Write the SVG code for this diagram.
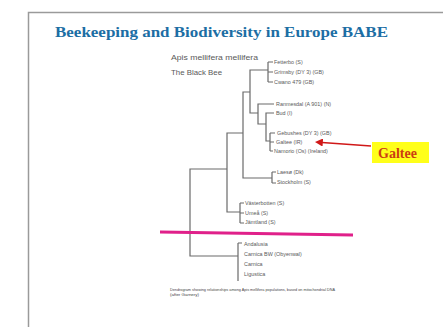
<svg xmlns="http://www.w3.org/2000/svg" width="443" height="327" viewBox="0 0 443 327">
<style>
.lbl{font-family:"Liberation Sans",Arial,sans-serif;font-size:5.4px;fill:#5a5a5a}
.sp{font-family:"Liberation Sans",Arial,sans-serif;font-size:7px;fill:#5a5a5a}
.tree{fill:none;stroke:#6a6a6a;stroke-width:1.2}
.foot{font-family:"Liberation Sans",Arial,sans-serif;font-size:3.6px;fill:#444}
</style>
<defs>
<marker id="ah" viewBox="0 0 10 10" refX="1" refY="5" markerWidth="5" markerHeight="5" orient="auto-start-reverse">
<path d="M0,0 L10,5 L0,10 z" fill="#d01818"/>
</marker>
</defs>
<rect width="443" height="327" fill="#ffffff"/>
<g id="frame">
<path d="M28.5,327 V12.5 H443" fill="none" stroke="#9a9a9a" stroke-width="1.5"/>
</g>
<g id="title">
<text x="55" y="37" font-family="Liberation Serif,Times New Roman,serif" font-weight="bold" font-size="15" fill="#1c6ea4" textLength="333" lengthAdjust="spacingAndGlyphs">Beekeeping and Biodiversity in Europe  BABE</text>
</g>
<g id="species">
<text class="sp" x="171" y="60" textLength="87" lengthAdjust="spacingAndGlyphs">Apis mellifera mellifera</text>
<text class="sp" x="171" y="75" textLength="51" lengthAdjust="spacingAndGlyphs">The Black Bee</text>
</g>
<g id="connectors" class="tree">
<path d="M227,169 H190 V256 H238"/>
<path d="M243,133 H227 V212 H240"/>
<path d="M250,92 H243 V178 H272"/>
<path d="M268,70 H250 V113 H258"/>
<path d="M268,62 V82 M268,62 H273 M268,72 H273 M268,82 H273"/>
<path d="M274,104 H258 V124 H266"/>
<path d="M274,113 H266 V141 H270"/>
<path d="M270,133 V151 M270,133 H275 M270,142 H274 M270,151 H273"/>
<path d="M272,172 V183 M272,172 H276 M272,183 H276"/>
<path d="M240,203 V223 M240,203 H244 M240,213 H244 M240,223 H244"/>
<path d="M238,243 V281 M238,243 H242"/>
</g>
<g id="leaves">
<text class="lbl" x="274" y="64">Fetterbo (S)</text>
<text class="lbl" x="274" y="74">Grimsby (DY 3) (GB)</text>
<text class="lbl" x="274" y="84">Cwano 479 (GB)</text>
<text class="lbl" x="276" y="106">Ranmesdal (A 901) (N)</text>
<text class="lbl" x="276" y="115">Bud (I)</text>
<text class="lbl" x="277" y="135">Gebushes (DY 3) (GB)</text>
<text class="lbl" x="276" y="144">Galtee (IR)</text>
<text class="lbl" x="274" y="153">Namorio (Os) (Ireland)</text>
<text class="lbl" x="277" y="174">Laesø (Dk)</text>
<text class="lbl" x="277" y="184">Stockholm (S)</text>
<text class="lbl" x="245" y="205">Västerbotten (S)</text>
<text class="lbl" x="245" y="215">Umeå (S)</text>
<text class="lbl" x="245" y="224">Jämtland (S)</text>
<text class="lbl" x="244" y="246">Andalusia</text>
<text class="lbl" x="244" y="256">Carnica BW (Obyenwal)</text>
<text class="lbl" x="244" y="266">Carnica</text>
<text class="lbl" x="244" y="276">Ligustica</text>
</g>
<g id="divider">
<line x1="160" y1="232" x2="353" y2="235" stroke="#e0208a" stroke-width="3"/>
</g>
<g id="footnote">
<text class="foot" x="170" y="291" textLength="165" lengthAdjust="spacingAndGlyphs">Dendrogram showing relationships among Apis mellifera populations, based on mitochondrial DNA</text>
<text class="foot" x="170" y="295.5" textLength="29" lengthAdjust="spacingAndGlyphs">(after Garnery)</text>
</g>
<g id="galtee">
<rect x="372" y="142" width="57" height="21" fill="#ffff1a"/>
<text x="378" y="158" font-family="Liberation Serif,Times New Roman,serif" font-weight="bold" font-size="14" fill="#cc3d12">Galtee</text>
<line x1="371" y1="146" x2="322" y2="142.5" stroke="#d01818" stroke-width="1.6" marker-end="url(#ah)"/>
</g>
</svg>
